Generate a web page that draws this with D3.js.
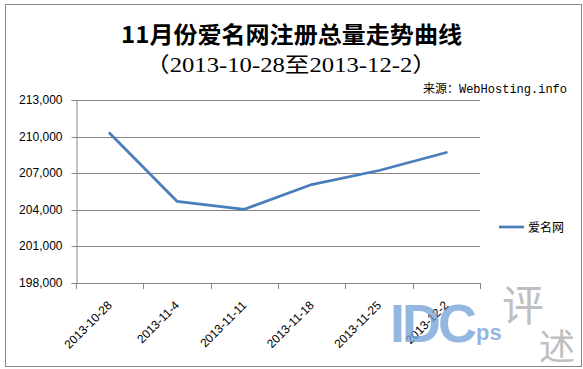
<!DOCTYPE html>
<html><head><meta charset="utf-8">
<script src="https://cdn.jsdelivr.net/npm/d3@7"></script>
<style>body{margin:0;background:#fff}svg{display:block}</style>
</head><body>
<script>
const categories = ["2013-10-28","2013-11-4","2013-11-11","2013-11-18","2013-11-25","2013-12-2"];
const values = [210270, 204700, 204040, 206070, 207220, 208700];
const yTicks = [198000, 201000, 204000, 207000, 210000, 213000];
const seriesName = "爱名网";
const title = "11月份爱名网注册总量走势曲线";
const subtitle = "（2013-10-28至2013-12-2）";
const source = "来源：WebHosting.info";

const W = 583, H = 369;
const svg = d3.select("body").append("svg").attr("width", W).attr("height", H);
svg.append("rect").attr("x",5.5).attr("y",4.5).attr("width",576).attr("height",362)
  .attr("fill","#fff").attr("stroke","#868686").attr("stroke-width",1);

const plot = {l:76, r:480, t:100, b:283};
const x = d3.scaleBand().domain(categories).range([plot.l, plot.r]);
const y = d3.scaleLinear().domain([198000, 213000]).range([plot.b, plot.t]);

// gridlines
svg.append("g").selectAll("line").data(yTicks).join("line")
  .attr("x1", plot.l).attr("x2", plot.r)
  .attr("y1", d => Math.round(y(d))+0.5).attr("y2", d => Math.round(y(d))+0.5)
  .attr("stroke","#868686").attr("stroke-width",1);

// y axis
const yAxis = svg.append("g").attr("transform",`translate(${plot.l+0.5},0)`)
  .call(d3.axisLeft(y).tickValues(yTicks).tickSize(5).tickPadding(9).tickFormat(d3.format(",")));
yAxis.selectAll("path,line").attr("stroke","#868686");
yAxis.selectAll("text").attr("font-family","'Liberation Sans', Arial, sans-serif").attr("font-size","12px").attr("fill","#000");
yAxis.selectAll(".tick").attr("transform", d => `translate(0,${Math.round(y(d))+0.5})`);

// x axis
const xg = svg.append("g");
xg.append("line").attr("x1",plot.l).attr("x2",plot.r).attr("y1",plot.b+0.5).attr("y2",plot.b+0.5).attr("stroke","#868686");
const bounds = categories.map(c => x(c)).concat([x(categories[categories.length-1]) + x.bandwidth()]);
xg.selectAll("line.tk").data(bounds).join("line").attr("class","tk")
  .attr("x1", d => Math.round(d)+0.5).attr("x2", d => Math.round(d)+0.5)
  .attr("y1", plot.b).attr("y2", plot.b+6).attr("stroke","#868686");
xg.selectAll("text").data(categories).join("text")
  .attr("transform", d => `translate(${x(d)+x.bandwidth()/2},${plot.b+20}) rotate(-45)`)
  .attr("text-anchor","end").attr("dy","0.35em")
  .attr("font-family","'Liberation Sans', Arial, sans-serif").attr("font-size","12px").attr("fill","#000")
  .text(d => d);

// line
const line = d3.line().x((d,i) => x(categories[i]) + x.bandwidth()/2).y(d => y(d));
svg.append("path").datum(values).attr("d", line).attr("fill","none")
  .attr("stroke","#4a7ebb").attr("stroke-width",2.75).attr("stroke-linejoin","round").attr("stroke-linecap","round");

// titles
svg.append("text").attr("x",291.5).attr("y",43).attr("text-anchor","middle")
  .attr("font-family","'Noto Sans CJK SC', sans-serif").attr("font-weight","bold").attr("font-size","23px").attr("fill","#000")
  .attr("textLength",341).attr("lengthAdjust","spacingAndGlyphs")
  .text(title);
svg.append("text").attr("x",291).attr("y",72).attr("text-anchor","middle")
  .attr("font-family","'Liberation Serif', 'Noto Sans CJK SC', serif").attr("font-size","21px").attr("fill","#000")
  .attr("textLength",292).attr("lengthAdjust","spacingAndGlyphs")
  .text(subtitle);
svg.append("text").attr("x",567).attr("y",93).attr("text-anchor","end")
  .attr("font-family","'Liberation Mono', 'Noto Sans CJK SC', monospace").attr("font-size","12px").attr("fill","#000")
  .text(source);

// legend
svg.append("line").attr("x1",499).attr("x2",524).attr("y1",227).attr("y2",227)
  .attr("stroke","#4a7ebb").attr("stroke-width",2.75);
svg.append("text").attr("x",528).attr("y",231.5)
  .attr("font-family","'Noto Sans CJK SC', sans-serif").attr("font-size","12px").attr("fill","#000")
  .text(seriesName);

// watermark
const wm = svg.append("g").attr("opacity",0.75);
wm.append("text").attr("x",390).attr("y",342).attr("font-family","'Liberation Sans', Arial, sans-serif")
  .attr("font-weight","bold").attr("font-size","54px").attr("fill","#6f9fd8").attr("letter-spacing","-3").text("IDC");
wm.append("text").attr("x",476).attr("y",340).attr("font-family","'Liberation Sans', Arial, sans-serif")
  .attr("font-weight","bold").attr("font-size","22px").attr("fill","#6f9fd8").text("ps");
wm.append("text").attr("x",502).attr("y",321).attr("font-family","'Noto Sans CJK SC', sans-serif")
  .attr("font-size","42px").attr("fill","#aaa").text("评");
wm.append("text").attr("x",539).attr("y",360).attr("font-family","'Noto Sans CJK SC', sans-serif")
  .attr("font-size","36px").attr("fill","#aaa").text("述");
</script>
</body></html>
